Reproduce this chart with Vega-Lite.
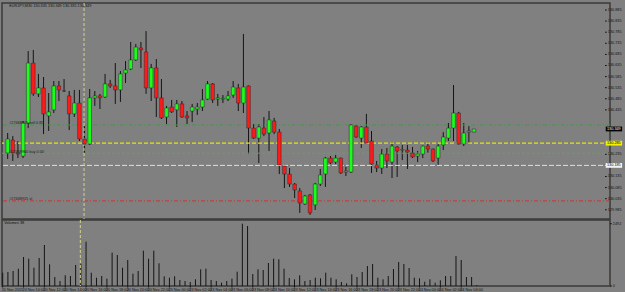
{
  "$schema": "https://vega.github.io/schema/vega-lite/v6.json",
  "background": "#808080",
  "padding": {"left": 0, "top": 1, "right": 0, "bottom": 0},
  "spacing": 1,
  "bounds": "flush",
  "config": {
    "view": {"stroke": "#3a3a3a", "strokeWidth": 1.5, "fill": "#808080"},
    "font": "Liberation Sans"
  },
  "datasets": {
    "candles": [
      {"i":0,"o":130.241,"h":130.331,"l":130.214,"c":130.304,"v":532},
      {"i":1,"o":130.299,"h":130.317,"l":130.205,"c":130.241,"v":560},
      {"i":2,"o":130.241,"h":130.295,"l":130.218,"c":130.236,"v":600},
      {"i":3,"o":130.227,"h":130.385,"l":130.218,"c":130.376,"v":692},
      {"i":4,"o":130.376,"h":130.700,"l":130.353,"c":130.646,"v":1160},
      {"i":5,"o":130.646,"h":130.705,"l":130.498,"c":130.507,"v":1092},
      {"i":6,"o":130.507,"h":130.597,"l":130.493,"c":130.534,"v":732},
      {"i":7,"o":130.534,"h":130.583,"l":130.326,"c":130.417,"v":1120},
      {"i":8,"o":130.408,"h":130.511,"l":130.340,"c":130.426,"v":1640},
      {"i":9,"o":130.435,"h":130.565,"l":130.421,"c":130.543,"v":868},
      {"i":10,"o":130.543,"h":130.565,"l":130.475,"c":130.525,"v":360},
      {"i":11,"o":130.520,"h":130.574,"l":130.516,"c":130.520,"v":200},
      {"i":12,"o":130.498,"h":130.520,"l":130.344,"c":130.417,"v":428},
      {"i":13,"o":130.417,"h":130.525,"l":130.403,"c":130.466,"v":400},
      {"i":14,"o":130.466,"h":130.525,"l":130.295,"c":130.304,"v":840},
      {"i":15,"o":130.304,"h":130.362,"l":130.241,"c":130.281,"v":892},
      {"i":16,"o":130.281,"h":130.529,"l":130.277,"c":130.489,"v":1772},
      {"i":17,"o":130.489,"h":130.520,"l":130.453,"c":130.498,"v":532},
      {"i":18,"o":130.498,"h":130.507,"l":130.439,"c":130.489,"v":332},
      {"i":19,"o":130.493,"h":130.597,"l":130.489,"c":130.552,"v":400},
      {"i":20,"o":130.552,"h":130.570,"l":130.534,"c":130.543,"v":292},
      {"i":21,"o":130.543,"h":130.646,"l":130.462,"c":130.525,"v":1332},
      {"i":22,"o":130.525,"h":130.610,"l":130.471,"c":130.597,"v":1240},
      {"i":23,"o":130.601,"h":130.655,"l":130.556,"c":130.615,"v":732},
      {"i":24,"o":130.619,"h":130.741,"l":130.615,"c":130.660,"v":1040},
      {"i":25,"o":130.660,"h":130.732,"l":130.655,"c":130.718,"v":492},
      {"i":26,"o":130.714,"h":130.741,"l":130.624,"c":130.705,"v":600},
      {"i":27,"o":130.696,"h":130.790,"l":130.507,"c":130.534,"v":1412},
      {"i":28,"o":130.534,"h":130.642,"l":130.475,"c":130.624,"v":1092},
      {"i":29,"o":130.624,"h":130.664,"l":130.403,"c":130.489,"v":1412},
      {"i":30,"o":130.489,"h":130.574,"l":130.394,"c":130.399,"v":908},
      {"i":31,"o":130.403,"h":130.453,"l":130.371,"c":130.444,"v":388},
      {"i":32,"o":130.448,"h":130.480,"l":130.421,"c":130.426,"v":332},
      {"i":33,"o":130.435,"h":130.480,"l":130.358,"c":130.462,"v":388},
      {"i":34,"o":130.462,"h":130.475,"l":130.399,"c":130.403,"v":240},
      {"i":35,"o":130.408,"h":130.430,"l":130.371,"c":130.399,"v":200},
      {"i":36,"o":130.430,"h":130.462,"l":130.380,"c":130.448,"v":160},
      {"i":37,"o":130.439,"h":130.466,"l":130.412,"c":130.448,"v":268},
      {"i":38,"o":130.448,"h":130.529,"l":130.430,"c":130.480,"v":668},
      {"i":39,"o":130.484,"h":130.565,"l":130.480,"c":130.552,"v":692},
      {"i":40,"o":130.552,"h":130.556,"l":130.466,"c":130.480,"v":240},
      {"i":41,"o":130.484,"h":130.507,"l":130.453,"c":130.489,"v":200},
      {"i":42,"o":130.484,"h":130.502,"l":130.466,"c":130.487,"v":132},
      {"i":43,"o":130.484,"h":130.520,"l":130.475,"c":130.498,"v":200},
      {"i":44,"o":130.502,"h":130.565,"l":130.489,"c":130.538,"v":292},
      {"i":45,"o":130.534,"h":130.552,"l":130.430,"c":130.466,"v":572},
      {"i":46,"o":130.466,"h":130.777,"l":130.421,"c":130.538,"v":2492},
      {"i":47,"o":130.543,"h":130.545,"l":130.236,"c":130.353,"v":2400},
      {"i":48,"o":130.353,"h":130.371,"l":130.304,"c":130.308,"v":480},
      {"i":49,"o":130.308,"h":130.371,"l":130.196,"c":130.358,"v":668},
      {"i":50,"o":130.353,"h":130.403,"l":130.317,"c":130.326,"v":640},
      {"i":51,"o":130.331,"h":130.430,"l":130.250,"c":130.390,"v":920},
      {"i":52,"o":130.385,"h":130.399,"l":130.326,"c":130.335,"v":1092},
      {"i":53,"o":130.335,"h":130.349,"l":130.146,"c":130.187,"v":1068},
      {"i":54,"o":130.182,"h":130.187,"l":130.083,"c":130.146,"v":692},
      {"i":55,"o":130.146,"h":130.173,"l":130.088,"c":130.101,"v":320},
      {"i":56,"o":130.101,"h":130.106,"l":130.038,"c":130.074,"v":268},
      {"i":57,"o":130.070,"h":130.083,"l":129.971,"c":130.016,"v":428},
      {"i":58,"o":130.011,"h":130.052,"l":130.007,"c":130.047,"v":200},
      {"i":59,"o":130.052,"h":130.056,"l":129.962,"c":129.971,"v":240},
      {"i":60,"o":130.007,"h":130.106,"l":129.984,"c":130.101,"v":332},
      {"i":61,"o":130.101,"h":130.169,"l":130.092,"c":130.142,"v":308},
      {"i":62,"o":130.146,"h":130.223,"l":130.088,"c":130.218,"v":532},
      {"i":63,"o":130.218,"h":130.227,"l":130.191,"c":130.196,"v":332},
      {"i":64,"o":130.200,"h":130.232,"l":130.191,"c":130.218,"v":268},
      {"i":65,"o":130.218,"h":130.220,"l":130.146,"c":130.151,"v":160},
      {"i":66,"o":130.155,"h":130.178,"l":130.137,"c":130.160,"v":108},
      {"i":67,"o":130.155,"h":130.371,"l":130.151,"c":130.367,"v":468},
      {"i":68,"o":130.362,"h":130.367,"l":130.308,"c":130.313,"v":360},
      {"i":69,"o":130.308,"h":130.362,"l":130.263,"c":130.358,"v":560},
      {"i":70,"o":130.358,"h":130.417,"l":130.281,"c":130.286,"v":800},
      {"i":71,"o":130.295,"h":130.340,"l":130.151,"c":130.191,"v":880},
      {"i":72,"o":130.187,"h":130.205,"l":130.155,"c":130.173,"v":332},
      {"i":73,"o":130.173,"h":130.259,"l":130.146,"c":130.236,"v":268},
      {"i":74,"o":130.236,"h":130.263,"l":130.173,"c":130.205,"v":400},
      {"i":75,"o":130.200,"h":130.290,"l":130.128,"c":130.272,"v":680},
      {"i":76,"o":130.268,"h":130.272,"l":130.133,"c":130.250,"v":960},
      {"i":77,"o":130.254,"h":130.277,"l":130.209,"c":130.257,"v":880},
      {"i":78,"o":130.254,"h":130.277,"l":130.169,"c":130.245,"v":720},
      {"i":79,"o":130.241,"h":130.268,"l":130.218,"c":130.223,"v":332},
      {"i":80,"o":130.227,"h":130.250,"l":130.200,"c":130.236,"v":308},
      {"i":81,"o":130.236,"h":130.274,"l":130.218,"c":130.272,"v":172},
      {"i":82,"o":130.272,"h":130.290,"l":130.241,"c":130.259,"v":268},
      {"i":83,"o":130.259,"h":130.261,"l":130.200,"c":130.205,"v":132},
      {"i":84,"o":130.218,"h":130.281,"l":130.187,"c":130.272,"v":228},
      {"i":85,"o":130.277,"h":130.335,"l":130.254,"c":130.313,"v":400},
      {"i":86,"o":130.308,"h":130.376,"l":130.295,"c":130.353,"v":400},
      {"i":87,"o":130.353,"h":130.547,"l":130.295,"c":130.421,"v":1200},
      {"i":88,"o":130.421,"h":130.426,"l":130.279,"c":130.281,"v":1040},
      {"i":89,"o":130.281,"h":130.376,"l":130.272,"c":130.331,"v":360},
      {"i":90,"o":130.335,"h":130.362,"l":130.281,"c":130.340,"v":360},
      {"i":91,"o":130.335,"h":130.349,"l":130.335,"c":130.349,"v":38}
    ],
    "orders": [
      {"p":130.367,"t":"#27468915 sell 0.85"},
      {"p":130.240,"t":"#27468960 buy 0.00"},
      {"p":130.025,"t":"#27468915 sl"}
    ],
    "pticks": [
      {"p":129.985},{"p":130.035},{"p":130.085},{"p":130.135},{"p":130.235},
      {"p":130.435},{"p":130.485},{"p":130.535},{"p":130.585},{"p":130.635},
      {"p":130.685},{"p":130.735},{"p":130.785},{"p":130.835},{"p":130.885}
    ],
    "vticks": [{"v":0},{"v":2492}],
    "tlabels": [
      {"i":0,"t":"20 Nov 2015"},{"i":4,"t":"20 Nov 10:00"},{"i":8,"t":"20 Nov 12:00"},{"i":12,"t":"20 Nov 14:00"},
      {"i":16,"t":"20 Nov 16:00"},{"i":20,"t":"20 Nov 18:00"},{"i":24,"t":"20 Nov 20:00"},{"i":28,"t":"20 Nov 22:00"},
      {"i":32,"t":"23 Nov 00:00"},{"i":36,"t":"23 Nov 02:00"},{"i":40,"t":"23 Nov 04:00"},{"i":44,"t":"23 Nov 06:00"},
      {"i":48,"t":"23 Nov 08:00"},{"i":52,"t":"23 Nov 10:00"},{"i":56,"t":"23 Nov 12:00"},{"i":60,"t":"23 Nov 14:00"},
      {"i":64,"t":"23 Nov 16:00"},{"i":68,"t":"23 Nov 18:00"},{"i":72,"t":"23 Nov 20:00"},{"i":76,"t":"23 Nov 22:00"},
      {"i":80,"t":"24 Nov 00:00"},{"i":84,"t":"24 Nov 02:00"},{"i":88,"t":"24 Nov 04:00"}
    ]
  },
  "vconcat": [
    {
      "width": 608,
      "height": 216,
      "layer": [
        {
          "data": {"name": "candles"},
          "mark": {"type": "rule", "color": "#141414", "strokeWidth": 1},
          "encoding": {
            "x": {"field": "i", "type": "quantitative", "scale": {"domain": [-0.134, 116.56], "nice": false, "zero": false}, "axis": null},
            "y": {"field": "l", "type": "quantitative", "scale": {"domain": [129.9435, 130.9165], "nice": false, "zero": false}, "axis": null},
            "y2": {"field": "h"}
          }
        },
        {
          "data": {"values": [{"p": 130.367}]},
          "mark": {"type": "rule", "color": "#3f9c3f", "strokeWidth": 1, "strokeDash": [4, 2, 1, 2]},
          "encoding": {"y": {"field": "p", "type": "quantitative", "axis": null}}
        },
        {
          "data": {"values": [{"p": 130.285}]},
          "mark": {"type": "rule", "color": "#e6e600", "strokeWidth": 1.2, "strokeDash": [4, 2]},
          "encoding": {"y": {"field": "p", "type": "quantitative", "axis": null}}
        },
        {
          "data": {"values": [{"p": 130.240}]},
          "mark": {"type": "rule", "color": "#62a062", "strokeWidth": 1, "strokeDash": [3, 2]},
          "encoding": {"y": {"field": "p", "type": "quantitative", "axis": null}}
        },
        {
          "data": {"values": [{"p": 130.185}]},
          "mark": {"type": "rule", "color": "#dedede", "strokeWidth": 1, "strokeDash": [5, 2]},
          "encoding": {"y": {"field": "p", "type": "quantitative", "axis": null}}
        },
        {
          "data": {"values": [{"p": 130.025}]},
          "mark": {"type": "rule", "color": "#d43030", "strokeWidth": 1, "strokeDash": [4, 2, 1, 2]},
          "encoding": {"y": {"field": "p", "type": "quantitative", "axis": null}}
        },
        {
          "data": {"values": [{"i": 14.9}]},
          "mark": {"type": "rule", "color": "#d2d28c", "strokeWidth": 1, "strokeDash": [3, 2]},
          "encoding": {"x": {"field": "i", "type": "quantitative", "axis": null}}
        },
        {
          "data": {"name": "candles"},
          "mark": {"type": "bar", "size": 3.6, "stroke": "#2a2a2a", "strokeWidth": 0.5},
          "encoding": {
            "x": {"field": "i", "type": "quantitative", "axis": null},
            "y": {"field": "o", "type": "quantitative", "axis": null},
            "y2": {"field": "c"},
            "color": {"condition": {"test": "datum.c >= datum.o", "value": "#1aff1a"}, "value": "#ff1a1a"}
          }
        },
        {
          "data": {"name": "pticks"},
          "mark": {"type": "rule", "color": "#141414", "strokeWidth": 1},
          "encoding": {
            "x": {"datum": 116.56, "type": "quantitative", "axis": null},
            "x2": {"datum": 116.9},
            "y": {"field": "p", "type": "quantitative", "axis": null}
          }
        },
        {
          "data": {"name": "pticks"},
          "mark": {"type": "text", "color": "#141414", "fontSize": 3.8, "align": "left", "baseline": "middle"},
          "encoding": {
            "x": {"datum": 117.1, "type": "quantitative", "axis": null},
            "y": {"field": "p", "type": "quantitative", "axis": null},
            "text": {"field": "p", "type": "quantitative", "format": ".3f"}
          }
        },
        {
          "data": {"values": [{"p": 130.349}]},
          "mark": {"type": "rule", "color": "#000000", "strokeWidth": 4.8, "strokeCap": "butt"},
          "encoding": {
            "x": {"datum": 116.7, "type": "quantitative", "axis": null},
            "x2": {"datum": 119.9},
            "y": {"field": "p", "type": "quantitative", "axis": null}
          }
        },
        {
          "data": {"values": [{"p": 130.285}]},
          "mark": {"type": "rule", "color": "#f0f000", "strokeWidth": 4.8, "strokeCap": "butt"},
          "encoding": {
            "x": {"datum": 116.7, "type": "quantitative", "axis": null},
            "x2": {"datum": 119.9},
            "y": {"field": "p", "type": "quantitative", "axis": null}
          }
        },
        {
          "data": {"values": [{"p": 130.185}]},
          "mark": {"type": "rule", "color": "#f4f4f4", "strokeWidth": 4.8, "strokeCap": "butt"},
          "encoding": {
            "x": {"datum": 116.7, "type": "quantitative", "axis": null},
            "x2": {"datum": 119.9},
            "y": {"field": "p", "type": "quantitative", "axis": null}
          }
        },
        {
          "data": {"values": [{"p": 130.349}]},
          "mark": {"type": "text", "color": "#ffffff", "fontSize": 3.8, "align": "left", "baseline": "middle"},
          "encoding": {
            "x": {"datum": 116.95, "type": "quantitative", "axis": null},
            "y": {"field": "p", "type": "quantitative", "axis": null},
            "text": {"field": "p", "type": "quantitative", "format": ".3f"}
          }
        },
        {
          "data": {"values": [{"p": 130.285}, {"p": 130.185}]},
          "mark": {"type": "text", "color": "#000000", "fontSize": 3.8, "align": "left", "baseline": "middle"},
          "encoding": {
            "x": {"datum": 116.95, "type": "quantitative", "axis": null},
            "y": {"field": "p", "type": "quantitative", "axis": null},
            "text": {"field": "p", "type": "quantitative", "format": ".3f"}
          }
        },
        {
          "data": {"name": "orders"},
          "mark": {"type": "text", "color": "#202020", "fontSize": 3.8, "align": "left", "baseline": "bottom", "dy": 0.5},
          "encoding": {
            "x": {"datum": 0.3, "type": "quantitative", "axis": null},
            "y": {"field": "p", "type": "quantitative", "axis": null},
            "text": {"field": "t"}
          }
        },
        {
          "data": {"values": [{"p": 130.913, "t": "EURJPY,M30  130.335 130.349 130.335 130.349"}]},
          "mark": {"type": "text", "color": "#101010", "fontSize": 3.8, "align": "left", "baseline": "top"},
          "encoding": {
            "x": {"datum": 0.3, "type": "quantitative", "axis": null},
            "y": {"field": "p", "type": "quantitative", "axis": null},
            "text": {"field": "t"}
          }
        }
      ]
    },
    {
      "width": 608,
      "height": 66,
      "layer": [
        {
          "data": {"name": "candles"},
          "mark": {"type": "rule", "color": "#141414", "strokeWidth": 1},
          "encoding": {
            "x": {"field": "i", "type": "quantitative", "scale": {"domain": [-0.134, 116.56], "nice": false, "zero": false}, "axis": null},
            "y": {"field": "v", "type": "quantitative", "scale": {"domain": [0, 2640], "nice": false, "zero": false}, "axis": null},
            "y2": {"datum": 0}
          }
        },
        {
          "data": {"values": [{"i": 14.9}]},
          "mark": {"type": "rule", "color": "#d2d28c", "strokeWidth": 1, "strokeDash": [3, 2]},
          "encoding": {"x": {"field": "i", "type": "quantitative", "axis": null}}
        },
        {
          "data": {"values": [{"v": 2520, "t": "Volumes 38"}]},
          "mark": {"type": "text", "color": "#101010", "fontSize": 3.8, "align": "left", "baseline": "middle"},
          "encoding": {
            "x": {"datum": 0.3, "type": "quantitative", "axis": null},
            "y": {"field": "v", "type": "quantitative", "axis": null},
            "text": {"field": "t"}
          }
        },
        {
          "data": {"name": "vticks"},
          "mark": {"type": "rule", "color": "#141414", "strokeWidth": 1},
          "encoding": {
            "x": {"datum": 116.56, "type": "quantitative", "axis": null},
            "x2": {"datum": 116.9},
            "y": {"field": "v", "type": "quantitative", "axis": null}
          }
        },
        {
          "data": {"name": "vticks"},
          "mark": {"type": "text", "color": "#141414", "fontSize": 3.8, "align": "left", "baseline": "middle"},
          "encoding": {
            "x": {"datum": 117.1, "type": "quantitative", "axis": null},
            "y": {"field": "v", "type": "quantitative", "axis": null},
            "text": {"field": "v", "type": "quantitative", "format": "d"}
          }
        },
        {
          "data": {"name": "tlabels"},
          "mark": {"type": "rule", "color": "#141414", "strokeWidth": 1},
          "encoding": {
            "x": {"field": "i", "type": "quantitative", "axis": null},
            "y": {"datum": 0, "type": "quantitative", "axis": null},
            "y2": {"datum": -60}
          }
        },
        {
          "data": {"name": "tlabels"},
          "mark": {"type": "text", "color": "#141414", "fontSize": 3.8, "align": "left", "baseline": "top", "dx": -1},
          "encoding": {
            "x": {"field": "i", "type": "quantitative", "axis": null},
            "y": {"datum": -80, "type": "quantitative", "axis": null},
            "text": {"field": "t"}
          }
        }
      ]
    }
  ]
}
